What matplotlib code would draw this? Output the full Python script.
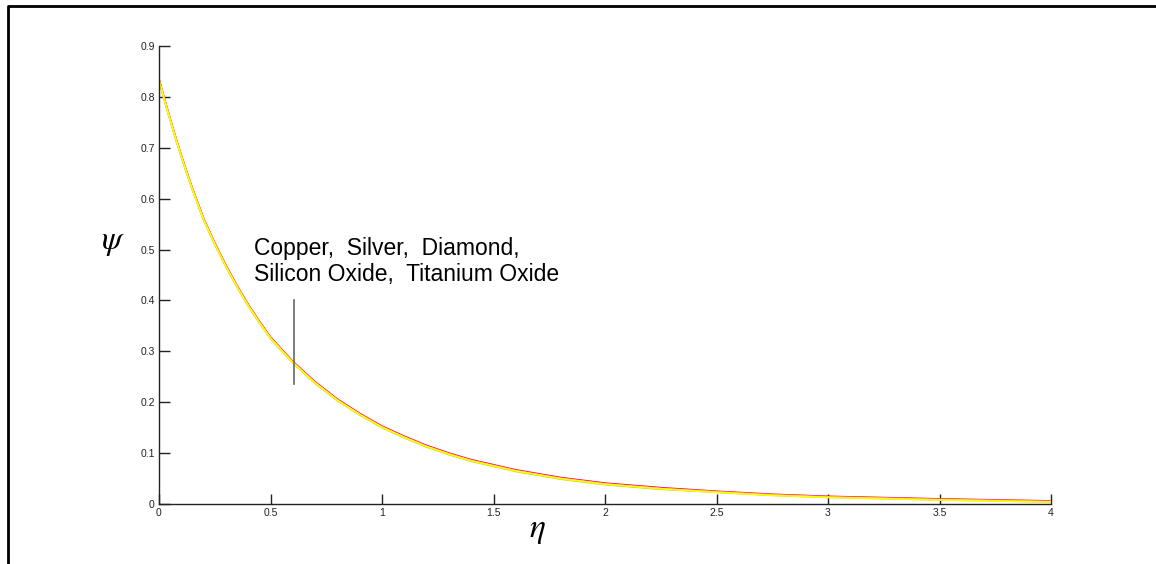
import matplotlib
matplotlib.use("Agg")
import matplotlib.pyplot as plt
from matplotlib.lines import Line2D

eta = [0.0, 0.025, 0.05, 0.075, 0.1, 0.125, 0.15, 0.2, 0.25, 0.3, 0.35, 0.4, 0.45,
       0.5, 0.6, 0.7, 0.8, 0.9, 1.0, 1.1, 1.2, 1.3, 1.4, 1.6, 1.8, 2.0, 2.25, 2.5,
       2.75, 3.0, 3.5, 4.0]

psi_copper = [0.835, 0.795, 0.757, 0.720, 0.685, 0.652, 0.620, 0.561, 0.513, 0.469,
              0.429, 0.392, 0.359, 0.328, 0.280, 0.240, 0.206, 0.178, 0.153, 0.133,
              0.115, 0.100, 0.087, 0.067, 0.052, 0.041, 0.032, 0.025, 0.019, 0.015,
              0.010, 0.006]
psi_silver = [0.834, 0.794, 0.756, 0.719, 0.684, 0.651, 0.619, 0.560, 0.512, 0.468,
              0.428, 0.391, 0.358, 0.327, 0.279, 0.239, 0.205, 0.177, 0.152, 0.132,
              0.114, 0.099, 0.086, 0.066, 0.051, 0.040, 0.031, 0.024, 0.018, 0.014,
              0.009, 0.005]
psi_diamond = [0.833, 0.793, 0.755, 0.718, 0.683, 0.650, 0.618, 0.559, 0.511, 0.467,
               0.427, 0.390, 0.357, 0.326, 0.278, 0.238, 0.204, 0.176, 0.151, 0.131,
               0.113, 0.098, 0.085, 0.065, 0.050, 0.039, 0.030, 0.024, 0.018, 0.014,
               0.009, 0.005]
psi_silicon = [0.832, 0.792, 0.754, 0.717, 0.682, 0.649, 0.617, 0.558, 0.510, 0.466,
               0.426, 0.389, 0.356, 0.325, 0.277, 0.237, 0.203, 0.175, 0.150, 0.130,
               0.112, 0.097, 0.084, 0.064, 0.049, 0.038, 0.029, 0.023, 0.017, 0.013,
               0.008, 0.004]
psi_titanium = [0.833, 0.793, 0.755, 0.718, 0.683, 0.650, 0.618, 0.559, 0.511, 0.467,
                0.427, 0.390, 0.357, 0.326, 0.278, 0.238, 0.204, 0.176, 0.151, 0.131,
                0.113, 0.098, 0.085, 0.065, 0.050, 0.039, 0.030, 0.023, 0.017, 0.013,
                0.008, 0.004]

series = [psi_copper, psi_silver, psi_diamond, psi_silicon, psi_titanium]
colors = ["#ff0000", "#ff40ff", "#ff80c0", "#c0e000", "#ffff00"]

xticks = [0, 0.5, 1, 1.5, 2, 2.5, 3, 3.5, 4]
xticklabels = ["0", "0.5", "1", "1.5", "2", "2.5", "3", "3.5", "4"]
yticks = [0, 0.1, 0.2, 0.3, 0.4, 0.5, 0.6, 0.7, 0.8, 0.9]
yticklabels = ["0", "0.1", "0.2", "0.3", "0.4", "0.5", "0.6", "0.7", "0.8", "0.9"]

annot_text = "Copper,  Silver,  Diamond,\nSilicon Oxide,  Titanium Oxide"
annot_eta = 0.605
annot_span = [0.235, 0.40]

plt.rcParams['font.family'] = ['Liberation Sans', 'DejaVu Sans']
plt.rcParams['mathtext.fontset'] = 'stix'

W, H = 1156, 564
fig = plt.figure(figsize=(W / 100, H / 100), dpi=100)
ax = fig.add_axes([159 / W, 1 - 504 / H, (1051 - 159) / W, (504 - 46) / H])

for ys, c in zip(series, colors):
    ax.plot(eta, ys, color=c, lw=1.2, solid_joinstyle="round")

ax.set_xlim(0, 4)
ax.set_ylim(0, 0.9)
ax.set_xticks(xticks)
ax.set_xticklabels(xticklabels)
ax.set_yticks(yticks)
ax.set_yticklabels(yticklabels)
ax.tick_params(direction="in", length=7, width=1, colors="#222222",
               labelsize=7.5, labelcolor="#222222", pad=3)
ax.tick_params(axis="y", length=8)
for s in ["top", "right"]:
    ax.spines[s].set_visible(False)
for s in ["left", "bottom"]:
    ax.spines[s].set_color("#222222")
    ax.spines[s].set_linewidth(1)

# annotation marker line
ax.plot([annot_eta, annot_eta], annot_span, color="#666666", lw=1.2)
ax.text(254 / W, 1 - 237 / H, annot_text, transform=fig.transFigure,
        fontsize=16.5, va="top", ha="left", linespacing=1.15, color="#000000")

fig.text(113 / W, 1 - 243 / H, r"$\psi$", fontsize=24, ha="center", va="center")
fig.text(537 / W, 1 - 531 / H, r"$\eta$", fontsize=24, ha="center", va="center")

# figure frame (left and top)
fig.add_artist(Line2D([7.5 / W, 7.5 / W, 1.0], [0.0, 1 - 5.5 / H, 1 - 5.5 / H],
                      transform=fig.transFigure, color="black", lw=2))

fig.savefig("out.png", dpi=100)
